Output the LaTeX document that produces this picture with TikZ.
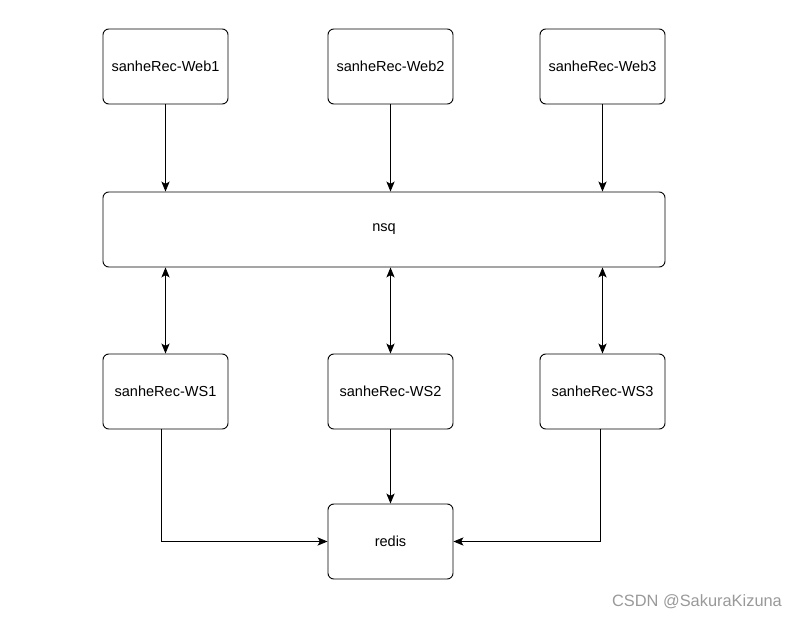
\documentclass[tikz,border=0pt]{standalone}
\usepackage{fontspec}
\setmainfont{Liberation Sans}
\usetikzlibrary{arrows.meta}

\begin{document}
\begin{tikzpicture}[x=0.03cm,y=-0.03cm,line width=0.8pt,
    box/.style={draw,rounded corners=5pt,minimum width=3.75cm,minimum height=2.25cm,font=\fontsize{12.4}{15}\selectfont},
    >={Stealth[length=8.5pt,width=7pt,inset=2pt]}]
    \useasboundingbox (0,0) rectangle (800,619);
    \node[box,minimum width=16.86cm] (nsq) at (384,229.5) {nsq};
    \node[box] (redis) at (390.5,541.5) {redis};
    \foreach \i/\x in {1/165.5,2/390.5,3/602.5}{
        \node[box] (web\i) at (\x,66.5) {sanheRec-Web\i};
        \node[box] (ws\i) at (\x,391.5) {sanheRec-WS\i};
        \draw[->] (web\i) -- (web\i |- nsq.north);
        \draw[<->] (ws\i |- nsq.south) -- (ws\i);
    }
    \draw[->] ([xshift=-0.12cm]ws1.south) |- (redis);
    \draw[->] (ws2) -- (redis);
    \draw[->] ([xshift=-0.07cm]ws3.south) |- (redis);
    \node[text=gray!80,font=\fontsize{14}{16}\selectfont] (mark) at (697,602) {CSDN @SakuraKizuna};
\end{tikzpicture}
\end{document}
